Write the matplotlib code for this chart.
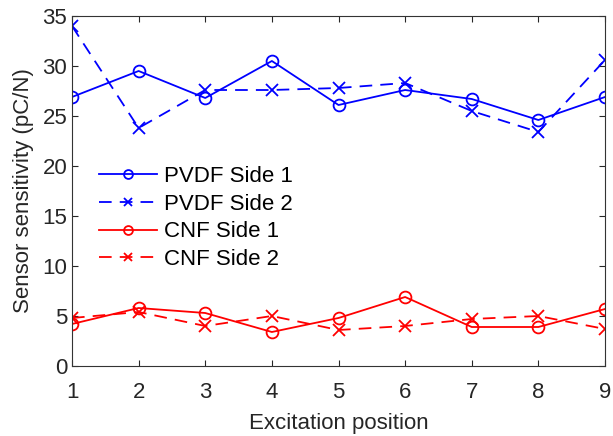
import matplotlib.pyplot as plt

plt.rcParams['font.family'] = ['Liberation Sans', 'DejaVu Sans']

positions = [1, 2, 3, 4, 5, 6, 7, 8, 9]
pvdf_side1 = [26.9, 29.5, 26.8, 30.5, 26.1, 27.6, 26.7, 24.6, 26.9]
pvdf_side2 = [34.0, 23.8, 27.6, 27.6, 27.8, 28.3, 25.5, 23.4, 30.6]
cnf_side1 = [4.2, 5.8, 5.3, 3.4, 4.8, 6.9, 3.9, 3.9, 5.7]
cnf_side2 = [4.8, 5.4, 4.0, 5.0, 3.6, 4.0, 4.7, 5.0, 3.7]

fig = plt.figure(figsize=(6.13, 4.36), dpi=100)
# axes box: 72..605 px wide, 16..366 px tall
ax = fig.add_axes([72 / 613, 70 / 436, 533 / 613, 350 / 436])

mk = dict(markerfacecolor='none', markeredgewidth=1.3, linewidth=1.3, markersize=8.5)
ax.plot(positions, pvdf_side1, '-o', color='blue', label='PVDF Side 1', **mk)
ax.plot(positions, pvdf_side2, '--x', color='blue', dashes=(7, 4.5), label='PVDF Side 2', **mk)
ax.plot(positions, cnf_side1, '-o', color='red', label='CNF Side 1', **mk)
ax.plot(positions, cnf_side2, '--x', color='red', dashes=(7, 4.5), label='CNF Side 2', **mk)

ax.set_xlim(1, 9)
ax.set_ylim(0, 35)
ax.set_xticks(positions)
ax.set_yticks(range(0, 36, 5))
ax.tick_params(direction='in', top=True, right=True, labelsize=16, colors='#262626',
               length=4.5, width=0.8)
ax.tick_params(axis='x', pad=11.5)
for s in ax.spines.values():
    s.set_color('#333333')
    s.set_linewidth(0.8)

ax.set_xlabel('Excitation position', fontsize=16, color='#262626', labelpad=7)
ax.set_ylabel('Sensor sensitivity (pC/N)', fontsize=16, color='#262626', labelpad=6)

ax.legend(loc='upper left', bbox_to_anchor=(0.051, 0.571), frameon=False, fontsize=16,
          borderpad=0, borderaxespad=0, handlelength=2.6, handletextpad=0.3,
          labelspacing=0.3, markerscale=0.75)

fig.savefig('out.png', dpi=100)
